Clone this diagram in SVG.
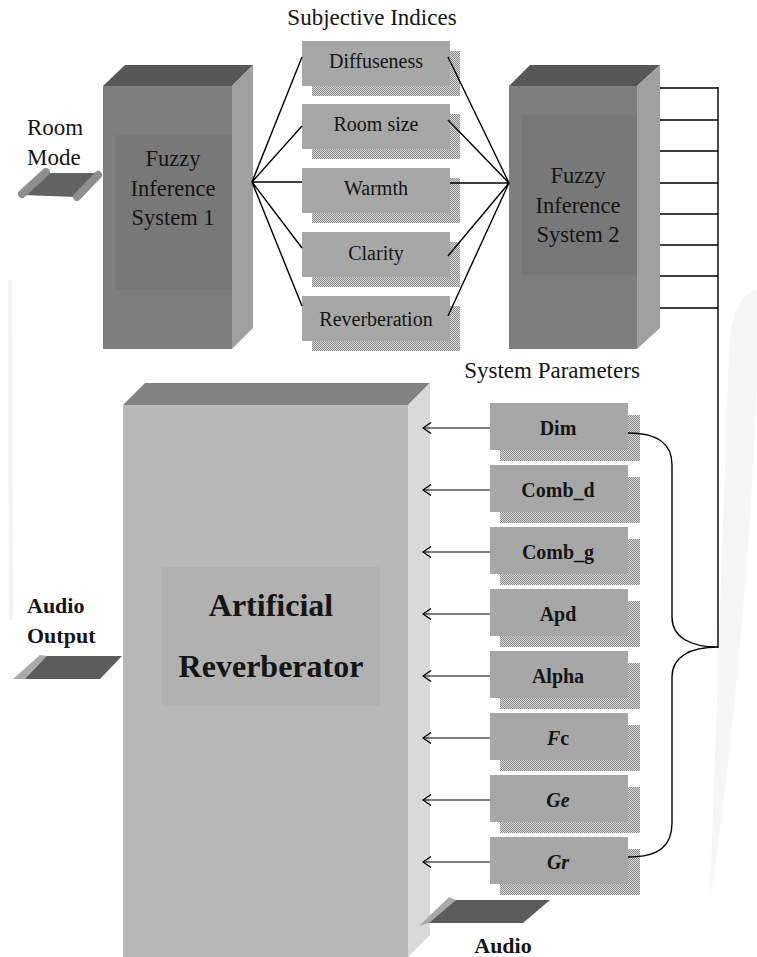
<svg xmlns="http://www.w3.org/2000/svg" width="757" height="957" viewBox="0 0 757 957">
<defs>
<pattern id="dither" width="2" height="2" patternUnits="userSpaceOnUse">
<rect width="2" height="2" fill="#d6d6d6"/>
<rect width="1" height="1" fill="#8e8e8e"/>
<rect x="1" y="1" width="1" height="1" fill="#8e8e8e"/>
</pattern>
<marker id="open" viewBox="0 0 10 12" refX="9" refY="6" markerWidth="10" markerHeight="12" markerUnits="userSpaceOnUse" orient="auto">
<path d="M1,0.5 L9,6 L1,11.5" fill="none" stroke="#000" stroke-width="1.3"/>
</marker>
</defs>
<style>
.serif{font-family:"Liberation Serif","Times New Roman",serif;fill:#151515}
.fis{font-size:22.5px;text-anchor:middle}
.lbl{font-size:23px}
.idx{font-size:20px;text-anchor:middle}
.par{font-size:20px;font-weight:bold;text-anchor:middle}
.bold{font-weight:bold}
.front-s{fill:#a7a7a7}
.shadow{fill:url(#dither)}
.conn{stroke:#000;stroke-width:1.4;fill:none}
.arr{stroke:#000;stroke-width:1.1;fill:none;marker-end:url(#open)}
</style>
<rect width="757" height="957" fill="#fff"/>
<!-- faint watermark -->
<path d="M757,290 C740,292 731,315 729,350 L710,900 C737,720 752,520 757,380 Z" fill="#f6f6f6"/>
<path d="M8,280 L12,280 L13,620 L9,620 Z" fill="#f4f4f4"/>

<g id="room-mode">
<text class="serif lbl" x="27" y="135">Room</text>
<text class="serif lbl" x="27" y="165">Mode</text>
<polygon points="46,173 98,173 77,197 22,195" fill="#626262"/>
<line x1="22" y1="194" x2="46" y2="172" stroke="#8f8f8f" stroke-width="8" stroke-linecap="round"/>
<line x1="77" y1="197" x2="98" y2="175" stroke="#8f8f8f" stroke-width="8" stroke-linecap="round"/>
</g>

<g id="fis1">
<polygon points="103,86 125,65 253,65 232,86" fill="#575757"/>
<polygon points="232,86 253,65 253,328 232,349" fill="#a0a0a0"/>
<rect x="103" y="86" width="129" height="263" fill="#7e7e7e"/>
<rect x="115" y="135" width="117" height="155" fill="#787878"/>
<text class="serif fis" x="173" y="166">Fuzzy</text>
<text class="serif fis" x="173" y="196">Inference</text>
<text class="serif fis" x="173" y="225">System 1</text>
</g>

<text class="serif lbl" x="372" y="25" text-anchor="middle">Subjective Indices</text>

<g id="diffuseness">
<rect class="shadow" x="312" y="51" width="148" height="45"/>
<rect class="front-s" x="302" y="41" width="148" height="45"/>
<text class="serif idx" x="376" y="68">Diffuseness</text>
</g>
<g id="room-size">
<rect class="shadow" x="312" y="114" width="148" height="45"/>
<rect class="front-s" x="302" y="104" width="148" height="45"/>
<text class="serif idx" x="376" y="131">Room size</text>
</g>
<g id="warmth">
<rect class="shadow" x="312" y="178" width="148" height="45"/>
<rect class="front-s" x="302" y="168" width="148" height="45"/>
<text class="serif idx" x="376" y="195">Warmth</text>
</g>
<g id="clarity">
<rect class="shadow" x="312" y="242" width="148" height="45"/>
<rect class="front-s" x="302" y="232" width="148" height="45"/>
<text class="serif idx" x="376" y="260">Clarity</text>
</g>
<g id="reverberation">
<rect class="shadow" x="312" y="306" width="148" height="45"/>
<rect class="front-s" x="302" y="296" width="148" height="45"/>
<text class="serif idx" x="376" y="326">Reverberation</text>
</g>

<g id="fis2">
<polygon points="509,86 530,65 660,65 637,86" fill="#575757"/>
<polygon points="637,86 660,65 660,328 637,349" fill="#a0a0a0"/>
<rect x="509" y="86" width="128" height="263" fill="#7e7e7e"/>
<rect x="522" y="115" width="115" height="160" fill="#787878"/>
<text class="serif fis" x="578" y="183">Fuzzy</text>
<text class="serif fis" x="578" y="213">Inference</text>
<text class="serif fis" x="578" y="242">System 2</text>
</g>

<text class="serif lbl" x="552" y="378" text-anchor="middle">System Parameters</text>

<g id="reverberator">
<polygon points="123,405 145,383 430,383 408,405" fill="#828282"/>
<polygon points="408,405 430,383 430,935 408,957" fill="#d9d9d9"/>
<rect x="123" y="405" width="285" height="552" fill="#b8b8b8"/>
<rect x="162" y="567" width="218" height="139" fill="#b1b1b1"/>
<text class="serif bold" x="271" y="616" font-size="32" text-anchor="middle">Artificial</text>
<text class="serif bold" x="271" y="677" font-size="32" text-anchor="middle">Reverberator</text>
</g>

<g id="audio-output">
<text class="serif bold" x="27" y="613" font-size="22">Audio</text>
<text class="serif bold" x="27" y="643" font-size="22">Output</text>
<polygon points="46,656 122,656 100,679 24,679" fill="#5c5c5c"/>
<polygon points="40,655 47,656 25,679 13,679" fill="#a9a9a9"/>
</g>

<g id="audio-input">
<polygon points="455,900 550,900 523,923 428,923" fill="#5c5c5c"/>
<polygon points="449,897 456,900 429,923 419,926" fill="#a9a9a9"/>
<text class="serif bold" x="503" y="953" font-size="22" text-anchor="middle">Audio</text>
</g>

<g id="p-dim"><rect class="shadow" x="500" y="415" width="140" height="46"/><rect class="front-s" x="490" y="403" width="138" height="47"/><text class="serif par" x="558" y="435">Dim</text></g>
<g id="p-comb-d"><rect class="shadow" x="500" y="477" width="140" height="46"/><rect class="front-s" x="490" y="465" width="138" height="47"/><text class="serif par" x="558" y="497">Comb_d</text></g>
<g id="p-comb-g"><rect class="shadow" x="500" y="539" width="140" height="46"/><rect class="front-s" x="490" y="527" width="138" height="47"/><text class="serif par" x="558" y="559">Comb_g</text></g>
<g id="p-apd"><rect class="shadow" x="500" y="601" width="140" height="46"/><rect class="front-s" x="490" y="589" width="138" height="47"/><text class="serif par" x="558" y="621">Apd</text></g>
<g id="p-alpha"><rect class="shadow" x="500" y="663" width="140" height="46"/><rect class="front-s" x="490" y="651" width="138" height="47"/><text class="serif par" x="558" y="683">Alpha</text></g>
<g id="p-fc"><rect class="shadow" x="500" y="725" width="140" height="46"/><rect class="front-s" x="490" y="713" width="138" height="47"/><text class="serif par" x="558" y="745"><tspan font-style="italic">F</tspan>c</text></g>
<g id="p-ge"><rect class="shadow" x="500" y="787" width="140" height="46"/><rect class="front-s" x="490" y="775" width="138" height="47"/><text class="serif par" x="558" y="807" font-style="italic">Ge</text></g>
<g id="p-gr"><rect class="shadow" x="500" y="849" width="140" height="46"/><rect class="front-s" x="490" y="837" width="138" height="47"/><text class="serif par" x="558" y="869" font-style="italic">Gr</text></g>

<g id="connectors">
<path class="conn" d="M252,182 L302,57 M252,182 L302,126 M252,182 L302,182 M252,182 L302,248 M252,182 L302,306"/>
<path class="conn" d="M448,57 L509,183 M448,120 L509,183 M450,183 L509,183 M448,256 L509,183 M448,316 L509,183"/>
<path class="conn" d="M660,88 L718,88 M660,120 L718,120 M660,151 L718,151 M660,183 L718,183 M660,214 L718,214 M660,245 L718,245 M660,276 L718,276 M660,308 L718,308"/>
<path class="conn" d="M718,87 L718,648" stroke-width="1.8"/>
<path class="conn" d="M628,433 C660,433 672,445 672,465 L672,617 C672,637 690,647 718,647 C690,647 672,657 672,677 L672,823 C672,845 660,857 628,857" stroke-width="1.6"/>
<path class="arr" d="M490,428 L423,428"/>
<path class="arr" d="M490,490 L423,490"/>
<path class="arr" d="M490,552 L423,552" stroke-width="1.6"/>
<path class="arr" d="M490,614 L423,614"/>
<path class="arr" d="M490,676 L423,676"/>
<path class="arr" d="M490,738 L423,738" stroke-width="1.6"/>
<path class="arr" d="M490,800 L423,800"/>
<path class="arr" d="M490,862 L423,862"/>
</g>
</svg>
